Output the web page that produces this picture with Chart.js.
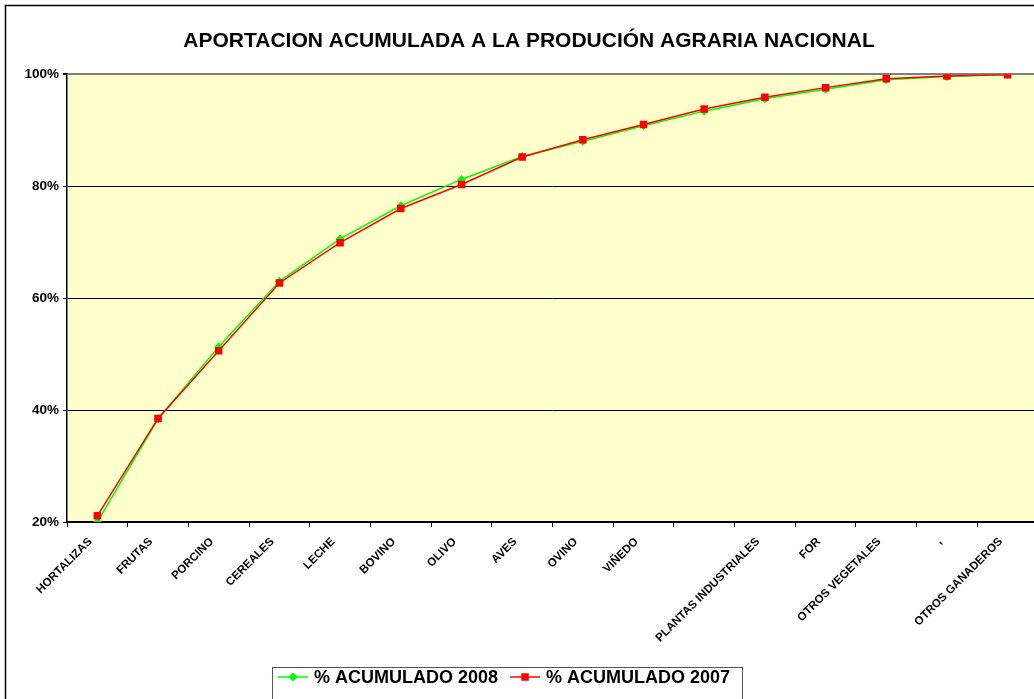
<!DOCTYPE html>
<html>
<head>
    <title>Aportacion acumulada a la produccion agraria nacional</title>
    <script src="https://cdn.jsdelivr.net/npm/chart.js@4.4.1/dist/chart.umd.min.js"></script>
    <style>
        body {
            margin: 0;
            background-color: white;
            overflow: hidden;
        }
        .wrap {
            width: 1034px;
            height: 699px;
            overflow: hidden;
        }
    </style>
</head>
<body>
    <div class="wrap">
        <canvas id="acumChart" width="1070" height="720"></canvas>
    </div>

    <script>
        // datos
        const categorias = ['HORTALIZAS', 'FRUTAS', 'PORCINO', 'CEREALES', 'LECHE', 'BOVINO', 'OLIVO', 'AVES',
            'OVINO', 'VIÑEDO', '', 'PLANTAS INDUSTRIALES', 'FOR', 'OTROS VEGETALES', ',', 'OTROS GANADEROS'];
        const acum2008 = [20.0, 38.4, 51.3, 63.0, 70.6, 76.5, 81.2, 85.3, 88.0, 90.8, 93.4, 95.6, 97.3, 99.0, 99.6, 100.0];
        const acum2007 = [21.1, 38.5, 50.6, 62.7, 69.9, 76.0, 80.3, 85.2, 88.3, 91.0, 93.8, 95.9, 97.6, 99.2, 99.7, 99.9];
        const ticksY = [20, 40, 60, 80, 100];

        const fuente = "'Liberation Sans', Arial, sans-serif";

        // fondo amarillo del area de trazado + marco exterior
        const fondoPlugin = {
            id: 'fondo',
            beforeDraw(chart) {
                const ctx = chart.ctx;
                const a = chart.chartArea;
                ctx.save();
                ctx.fillStyle = '#FFFFCC';
                ctx.fillRect(a.left, a.top, a.right - a.left, a.bottom - a.top);
                ctx.strokeStyle = '#000';
                ctx.lineWidth = 1.5;
                ctx.strokeRect(5.5, 5.5, chart.width + 20, chart.height + 20);
                ctx.restore();
            }
        };

        // leyenda con caja, linea y marcador como en Excel
        const leyendaPlugin = {
            id: 'leyendaExcel',
            afterDraw(chart) {
                const ctx = chart.ctx;
                ctx.save();
                ctx.strokeStyle = '#555';
                ctx.lineWidth = 1;
                ctx.strokeRect(272.5, 667.5, 470, 60);
                ctx.font = 'bold 18px ' + fuente;
                ctx.textBaseline = 'middle';
                let x = 278;
                const y = 677;
                chart.data.datasets.forEach(ds => {
                    ctx.strokeStyle = ds.borderColor;
                    ctx.lineWidth = 1.5;
                    ctx.beginPath();
                    ctx.moveTo(x, y);
                    ctx.lineTo(x + 30, y);
                    ctx.stroke();
                    ctx.fillStyle = ds.borderColor;
                    Chart.helpers.drawPoint(ctx, {
                        pointStyle: ds.pointStyle,
                        radius: ds.pointRadius,
                        borderWidth: 0
                    }, x + 15, y);
                    ctx.fillStyle = '#000';
                    ctx.fillText(ds.label, x + 36, y + 1);
                    x += 36 + ctx.measureText(ds.label).width + 12;
                });
                ctx.restore();
            }
        };

        const ctx = document.getElementById('acumChart').getContext('2d');
        new Chart(ctx, {
            type: 'line',
            data: {
                labels: categorias,
                datasets: [{
                    label: '% ACUMULADO 2008',
                    data: acum2008,
                    borderColor: '#00FF00',
                    backgroundColor: '#00FF00',
                    borderWidth: 1.5,
                    pointStyle: 'rectRot',
                    pointRadius: 4.5,
                    pointBorderWidth: 0,
                    tension: 0,
                    order: 2
                }, {
                    label: '% ACUMULADO 2007',
                    data: acum2007,
                    borderColor: '#FF0000',
                    backgroundColor: '#FF0000',
                    borderWidth: 1.5,
                    pointStyle: 'rect',
                    pointRadius: 5.3,
                    pointBorderWidth: 0,
                    tension: 0,
                    order: 1
                }]
            },
            options: {
                responsive: false,
                animation: false,
                layout: {
                    padding: { left: 20, right: 32, top: 0, bottom: 58 }
                },
                plugins: {
                    legend: { display: false },
                    tooltip: { enabled: false },
                    title: {
                        display: true,
                        text: 'APORTACION ACUMULADA A LA PRODUCIÓN AGRARIA NACIONAL',
                        color: '#000',
                        font: { family: fuente, size: 21, weight: 'bold', lineHeight: 1.2 },
                        padding: { top: 29, bottom: 20 }
                    }
                },
                scales: {
                    x: {
                        type: 'category',
                        offset: true,
                        grid: {
                            offset: true,
                            drawOnChartArea: false,
                            color: '#000',
                            tickLength: 5
                        },
                        border: { color: '#000', width: 1.5 },
                        ticks: {
                            autoSkip: false,
                            maxRotation: 45,
                            minRotation: 45,
                            color: '#000',
                            padding: 8,
                            labelOffset: -7,
                            font: { family: fuente, size: 11.5, weight: 'bold' }
                        },
                        afterFit(scale) {
                            scale.height = 140;
                        }
                    },
                    y: {
                        min: 20,
                        max: 100,
                        afterBuildTicks(scale) {
                            scale.ticks = ticksY.map(v => ({ value: v }));
                        },
                        grid: {
                            color: ctx => ctx.tick && ctx.tick.value === 100 ? '#808080' : '#000',
                            lineWidth: ctx => ctx.tick && ctx.tick.value === 100 ? 2 : 1,
                            tickColor: '#000',
                            tickLength: 4
                        },
                        border: { color: '#000', width: 1.5 },
                        ticks: {
                            color: '#000',
                            padding: 4,
                            font: { family: fuente, size: 13.5, weight: 'bold' },
                            callback: v => v + '%'
                        },
                        afterFit(scale) {
                            scale.width = 47;
                        }
                    }
                }
            },
            plugins: [fondoPlugin, leyendaPlugin]
        });
    </script>
</body>
</html>
